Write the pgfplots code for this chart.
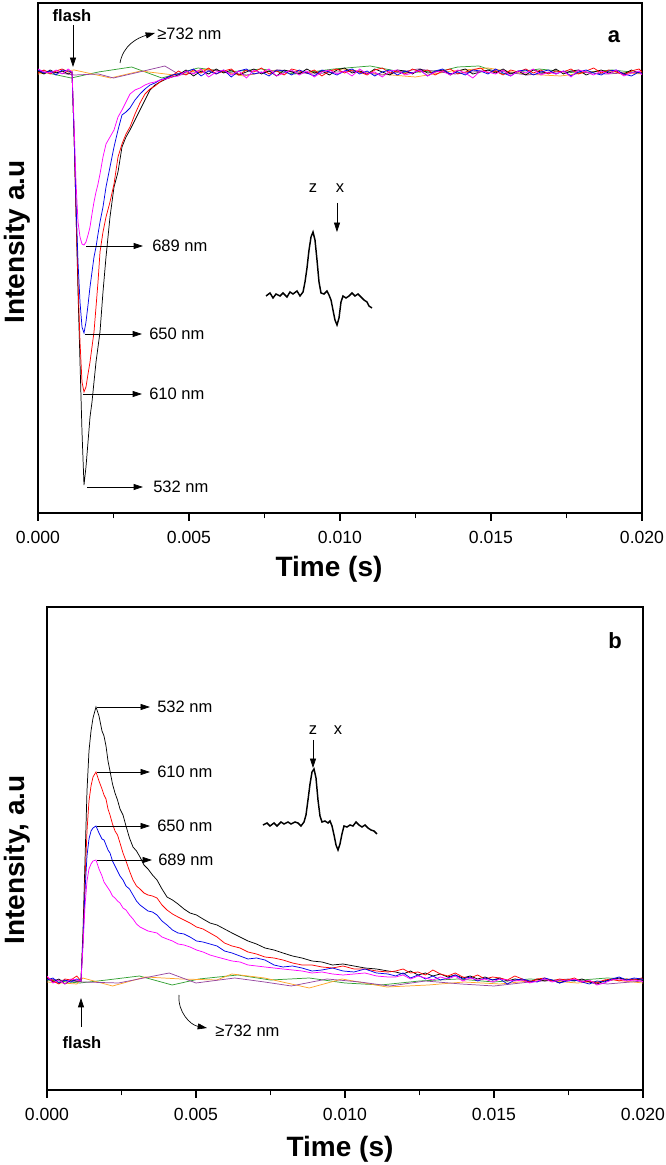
\documentclass[border=0pt]{standalone}
\usepackage{fontspec}
\setmainfont{Liberation Sans}
\usepackage{pgfplots}
\usepackage{pgfplotstable}
\pgfplotsset{compat=1.18}
\usetikzlibrary{arrows.meta}
\definecolor{cgreen}{RGB}{50,160,50}
\definecolor{corange}{RGB}{255,165,40}
\definecolor{cpurple}{RGB}{150,70,160}
\definecolor{cmag}{RGB}{255,0,255}
\definecolor{cblue}{RGB}{0,0,235}
\definecolor{cred}{RGB}{255,0,0}
\newcommand\tickfont{\fontsize{13.2}{15}\selectfont}
\newcommand\annfont{\fontsize{12.4}{14}\selectfont}
\newcommand\titlefont{\fontsize{21}{24}\selectfont\bfseries}

\pgfplotstableread{
t k r b m
0 0.01 -0.01 0.02 0.03
0.0002 -0.02 0.02 -0.01 0.00
0.0004 0.02 -0.02 0.01 -0.01
0.0006 -0.01 0.01 -0.03 0.02
0.0008 0.01 0.03 0.02 -0.02
0.0010 -0.02 0.00 0.01 0.03
0.001126 0.00 0.00 0.00 0.00
0.001192 -0.6 -0.6 -0.6 -0.5
0.001258 -1.4 -1.4 -1.3 -1.1
0.001325 -2.2 -2.1 -1.9 -1.5
0.001391 -2.9 -2.7 -2.3 -1.65
0.001457 -3.6 -3.1 -2.55 -1.72
0.001523 -4.13 -3.2 -2.61 -1.73
0.001589 -3.95 -3.15 -2.5 -1.70
0.001656 -3.7 -3.02 -2.33 -1.63
0.001722 -3.45 -2.9 -2.15 -1.55
0.001788 -3.3 -2.75 -2.0 -1.42
0.001854 -3.1 -2.6 -1.85 -1.30
0.001921 -2.9 -2.35 -1.75 -1.20
0.001987 -2.75 -2.1 -1.62 -1.12
0.002053 -2.6 -1.8 -1.5 -1.02
0.002152 -2.2 -1.6 -1.35 -0.85
0.002252 -1.85 -1.45 -1.15 -0.72
0.002384 -1.45 -1.3 -0.95 -0.65
0.002517 -1.15 -1.12 -0.75 -0.58
0.002649 -1.0 -0.85 -0.58 -0.45
0.002781 -0.75 -0.72 -0.43 -0.38
0.002914 -0.65 -0.62 -0.40 -0.30
0.003046 -0.58 -0.55 -0.36 -0.22
0.003212 -0.48 -0.42 -0.28 -0.18
0.003377 -0.38 -0.31 -0.22 -0.16
0.003543 -0.28 -0.22 -0.17 -0.13
0.003709 -0.18 -0.17 -0.13 -0.11
0.003874 -0.13 -0.14 -0.11 -0.10
0.004040 -0.10 -0.10 -0.08 -0.08
0.004238 -0.07 -0.06 -0.06 -0.07
0.004437 -0.05 -0.04 -0.03 -0.05
0.00465 -0.03 0.01 -0.02 -0.04
0.00490 0.02 -0.03 0.00 0.01
0.00515 -0.04 0.02 0.03 -0.02
0.00540 0.01 -0.01 -0.04 0.03
0.00565 -0.02 0.04 0.01 -0.05
0.00590 0.03 -0.02 -0.02 0.00
0.00615 -0.01 0.01 0.02 0.02
0.00640 0.02 0.03 -0.05 -0.03
0.00665 -0.03 -0.03 0.01 0.01
0.00690 0.00 0.02 0.03 -0.06
0.00715 0.03 0.00 -0.02 0.02
0.00740 -0.02 0.04 0.00 -0.01
0.00765 0.01 -0.02 -0.04 0.03
0.00790 -0.04 0.01 0.02 -0.04
0.00815 0.02 -0.03 0.01 -0.01
0.00840 0.00 0.03 -0.03 0.02
0.00865 -0.02 0.01 0.02 -0.03
0.00890 0.03 -0.01 -0.01 0.01
0.00915 -0.01 0.02 -0.04 -0.05
0.00940 0.01 -0.04 0.02 0.00
0.00965 -0.03 0.01 0.00 0.02
0.00990 0.02 0.03 -0.03 -0.02
0.01015 0.04 -0.01 0.01 0.01
0.01040 -0.01 0.02 0.03 -0.04
0.01065 0.01 0.00 -0.02 0.03
0.01090 -0.02 -0.03 0.01 -0.02
0.01115 0.03 0.02 -0.04 0.00
0.01140 0.00 0.04 0.00 -0.05
0.01165 -0.03 -0.01 0.02 0.01
0.01190 0.02 0.01 -0.03 0.02
0.01215 0.01 -0.02 0.01 -0.03
0.01240 -0.02 0.03 -0.01 -0.01
0.01265 0.03 0.00 0.02 0.02
0.01290 -0.01 0.02 -0.04 -0.04
0.01315 0.00 -0.03 0.01 0.00
0.01340 0.02 0.01 0.03 0.01
0.01365 -0.03 0.03 -0.02 -0.03
0.01390 0.01 -0.02 0.00 0.02
0.01415 0.03 0.00 -0.03 -0.01
0.01440 -0.02 0.02 0.02 -0.06
0.01465 0.00 0.04 0.01 0.01
0.01490 0.02 -0.01 -0.02 0.00
0.01515 -0.01 0.01 0.03 -0.02
0.01540 0.03 -0.03 -0.01 0.02
0.01565 -0.02 0.02 -0.04 -0.04
0.01590 0.01 0.00 0.01 0.01
0.01615 -0.03 0.03 0.02 -0.01
0.01640 0.02 -0.01 -0.03 0.03
0.01665 0.00 0.02 0.00 -0.03
0.01690 -0.01 -0.02 0.02 0.00
0.01715 0.03 0.01 -0.02 -0.02
0.01740 -0.02 0.00 0.01 0.01
0.01765 0.01 0.03 -0.04 -0.05
0.01790 0.02 -0.02 0.00 0.02
0.01815 -0.03 0.01 0.02 0.00
0.01840 0.00 0.04 -0.01 -0.03
0.01865 0.02 -0.01 -0.03 0.01
0.01890 -0.01 0.02 0.01 -0.02
0.01915 0.01 0.00 0.02 0.02
0.01940 -0.02 -0.03 -0.02 -0.04
0.01965 0.02 0.01 -0.04 -0.01
0.01990 -0.01 0.03 0.00 0.01
0.02000 0.00 0.00 -0.02 -0.03
}\tabA

\pgfplotstableread{
t k r b m
0 0.03 0.04 0.01 0.05
0.0002 -0.01 0.00 0.03 -0.02
0.0004 0.02 -0.03 -0.02 0.01
0.0006 -0.03 0.02 0.01 -0.03
0.0008 0.01 0.01 -0.01 0.02
0.0010 0.00 0.05 0.02 0.01
0.00114 0.00 0.00 0.00 0.00
0.001208 0.5 0.4 0.4 0.35
0.001275 1.2 1.0 0.9 0.75
0.001342 1.9 1.5 1.25 1.0
0.001409 2.3 1.8 1.42 1.12
0.001477 2.5 1.95 1.5 1.17
0.001544 2.63 2.04 1.53 1.2
0.001644 2.74 2.09 1.55 1.21
0.001745 2.65 2.00 1.48 1.12
0.001846 2.50 1.92 1.42 1.05
0.001913 2.45 1.86 1.41 0.99
0.001980 2.35 1.82 1.36 0.96
0.002047 2.20 1.72 1.31 0.93
0.002114 2.10 1.66 1.28 0.90
0.002198 1.97 1.57 1.20 0.85
0.002282 1.88 1.50 1.15 0.83
0.002366 1.81 1.46 1.10 0.80
0.002450 1.72 1.38 1.05 0.78
0.002550 1.66 1.28 1.01 0.73
0.002651 1.55 1.20 0.95 0.71
0.002768 1.43 1.10 0.92 0.66
0.002886 1.34 1.01 0.86 0.62
0.003003 1.30 0.95 0.80 0.57
0.003121 1.24 0.92 0.76 0.54
0.003255 1.16 0.88 0.73 0.52
0.003389 1.12 0.86 0.70 0.50
0.003540 1.06 0.85 0.69 0.49
0.003691 1.01 0.83 0.66 0.48
0.003859 0.92 0.76 0.60 0.44
0.004027 0.84 0.71 0.56 0.42
0.004211 0.81 0.67 0.51 0.40
0.004396 0.77 0.64 0.48 0.37
0.004597 0.72 0.61 0.47 0.36
0.004799 0.68 0.58 0.44 0.34
0.005017 0.66 0.54 0.40 0.31
0.005235 0.62 0.52 0.39 0.29
0.005470 0.58 0.48 0.37 0.26
0.005705 0.56 0.44 0.35 0.24
0.005956 0.52 0.38 0.30 0.22
0.006208 0.48 0.35 0.28 0.20
0.006476 0.44 0.33 0.25 0.19
0.006745 0.40 0.29 0.22 0.16
0.007030 0.37 0.27 0.23 0.15
0.007315 0.33 0.24 0.21 0.14
0.007617 0.31 0.23 0.16 0.13
0.007919 0.28 0.21 0.14 0.12
0.008238 0.25 0.18 0.15 0.11
0.008557 0.23 0.16 0.13 0.10
0.008892 0.20 0.16 0.10 0.08
0.009228 0.19 0.14 0.11 0.09
0.009580 0.16 0.13 0.13 0.07
0.009933 0.17 0.15 0.10 0.06
0.010302 0.15 0.12 0.09 0.07
0.010671 0.13 0.12 0.12 0.08
0.011057 0.12 0.10 0.08 0.05
0.011443 0.10 0.09 0.07 0.04
0.01170 0.09 0.10 0.05 0.04
0.01195 0.07 0.12 0.08 0.06
0.01220 0.10 0.08 0.03 0.02
0.01245 0.06 0.09 0.06 0.05
0.01270 0.08 0.06 0.02 0.03
0.01295 0.05 0.11 0.05 0.01
0.01320 0.07 0.07 0.01 0.04
0.01345 0.04 0.05 0.03 0.02
0.01370 0.06 0.08 0.06 0.05
0.01395 0.03 0.04 0.02 0.00
0.01420 0.05 0.03 0.04 0.03
0.01445 0.02 0.06 0.00 0.01
0.01470 0.04 0.02 0.03 0.02
0.01495 0.01 0.04 0.01 -0.01
0.01520 0.03 0.03 0.02 0.02
0.01545 0.00 0.01 -0.03 0.01
0.01570 0.02 0.05 0.01 0.00
0.01595 0.01 0.02 0.02 0.01
0.01620 -0.01 -0.01 0.00 -0.02
0.01645 0.02 0.02 -0.01 0.00
0.01670 0.00 0.03 0.03 0.02
0.01695 0.01 0.00 0.01 -0.01
0.01720 -0.02 0.02 -0.02 0.01
0.01745 0.01 0.01 0.00 0.00
0.01770 0.00 0.03 0.01 0.02
0.01795 0.02 -0.01 -0.01 -0.01
0.01820 -0.01 0.00 -0.03 0.01
0.01845 -0.03 -0.02 0.00 -0.04
0.01870 0.00 0.01 -0.01 -0.02
0.01895 0.01 0.02 0.02 0.01
0.01920 0.03 0.00 0.04 0.02
0.01945 0.01 0.02 0.01 0.00
0.01970 0.02 0.01 0.03 0.01
0.01995 0.01 0.03 0.02 0.00
0.02000 0.00 0.01 0.01 -0.01
}\tabB

\tikzset{arr/.style={-{Triangle[length=7pt,width=4.5pt]}, line width=0.5pt}}
\pgfplotsset{
  panel/.style={
    scale only axis,
    xmin=0, xmax=0.02,
    xtick={0,0.005,0.01,0.015,0.02},
    minor x tick num=1,
    xtick pos=bottom,
    ytick=\empty,
    tick align=outside,
    major tick length=6pt,
    minor tick length=4pt,
    every tick/.style={black, line width=0.8pt},
    axis line style={line width=0.9pt},
    scaled x ticks=false,
    xticklabel style={font=\tickfont, yshift=-4.5pt,
      /pgf/number format/fixed,
      /pgf/number format/fixed zerofill,
      /pgf/number format/precision=3,
      /pgf/number format/assume math mode=true},
    every axis plot/.append style={line width=0.55pt},
  },
}

\begin{document}
\begin{tikzpicture}
\useasboundingbox (0,0) rectangle (499.5pt,873.75pt);

% ---------------- panel a ----------------
\begin{axis}[panel,
  at={(28.5pt,489pt)}, anchor=south west,
  width=453pt, height=382.5pt,
  ymin=-4.41, ymax=0.69]
\addplot[cgreen] coordinates {(0,0.01) (0.0011,-0.06) (0.0020,0.0) (0.0031,0.05) (0.0041,-0.06) (0.0053,0.04) (0.0063,0.00) (0.0074,0.03) (0.0085,-0.02) (0.0098,0.03) (0.0110,0.06) (0.0122,-0.01) (0.0135,0.02) (0.0139,0.05) (0.0146,0.06) (0.0154,-0.02) (0.0166,0.03) (0.0178,-0.01) (0.0190,0.02) (0.0200,-0.01)};
\addplot[corange] coordinates {(0,-0.02) (0.0012,0.02) (0.0024,-0.06) (0.0034,0.01) (0.0045,-0.03) (0.0056,0.03) (0.0068,-0.04) (0.0079,0.02) (0.0090,-0.01) (0.0101,0.03) (0.0113,-0.02) (0.0125,-0.05) (0.0137,0.01) (0.0149,0.04) (0.0161,-0.02) (0.0173,-0.04) (0.0186,0.01) (0.0200,-0.02)};
\addplot[cpurple] coordinates {(0,0.02) (0.0012,-0.03) (0.0020,-0.02) (0.0025,-0.06) (0.0035,0.01) (0.0042,0.06) (0.0047,-0.03) (0.0058,0.02) (0.0069,-0.03) (0.0080,0.02) (0.0091,-0.02) (0.0103,0.01) (0.0114,-0.03) (0.0126,0.03) (0.0138,-0.02) (0.0150,0.02) (0.0162,-0.03) (0.0175,0.01) (0.0188,-0.02) (0.0200,0.00)};
\addplot[black] table[x=t,y=k] {\tabA};
\addplot[cred] table[x=t,y=r] {\tabA};
\addplot[cblue] table[x=t,y=b] {\tabA};
\addplot[cmag] table[x=t,y=m] {\tabA};
% inset trace
\addplot[black, line width=1.1pt] coordinates {
(0.007550,-2.24) (0.007682,-2.21) (0.007782,-2.26) (0.007881,-2.22) (0.008013,-2.24)
(0.008113,-2.21) (0.008245,-2.25) (0.008344,-2.20) (0.008444,-2.22) (0.008576,-2.19)
(0.008676,-2.24) (0.008775,-2.20) (0.008841,-2.10) (0.008907,-1.96) (0.008974,-1.78)
(0.009040,-1.65) (0.009106,-1.60) (0.009172,-1.68) (0.009238,-1.88) (0.009305,-2.10)
(0.009371,-2.21) (0.009470,-2.22) (0.009570,-2.19) (0.009636,-2.23) (0.009702,-2.28)
(0.009768,-2.38) (0.009834,-2.48) (0.009901,-2.53) (0.009967,-2.46) (0.010033,-2.30)
(0.010099,-2.24) (0.010199,-2.26) (0.010298,-2.24) (0.010397,-2.21) (0.010497,-2.24)
(0.010596,-2.22) (0.010695,-2.25) (0.010795,-2.28) (0.010894,-2.30) (0.010960,-2.34)
(0.011060,-2.36)};
% annotations
\node[font=\annfont\bfseries] at (axis cs:0.001126,0.56) {flash};
\draw[arr] (axis cs:0.001159,0.47) -- (axis cs:0.001159,0.05);
\draw[arr] (axis cs:0.002715,0.09) to[out=80,in=195] (axis cs:0.003874,0.39);
\node[font=\annfont, anchor=west, inner sep=0pt] at (axis cs:0.00394,0.38) {≥732 nm};
\draw[arr] (axis cs:0.00159,-1.74) -- (axis cs:0.003477,-1.74);
\node[font=\annfont, anchor=west, inner sep=0pt] at (axis cs:0.003775,-1.74) {689 nm};
\draw[arr] (axis cs:0.001556,-2.62) -- (axis cs:0.003444,-2.62);
\node[font=\annfont, anchor=west, inner sep=0pt] at (axis cs:0.003675,-2.62) {650 nm};
\draw[arr] (axis cs:0.00149,-3.22) -- (axis cs:0.003444,-3.22);
\node[font=\annfont, anchor=west, inner sep=0pt] at (axis cs:0.003675,-3.22) {610 nm};
\draw[arr] (axis cs:0.001623,-4.15) -- (axis cs:0.003477,-4.15);
\node[font=\annfont, anchor=west, inner sep=0pt] at (axis cs:0.003808,-4.15) {532 nm};
\node[font=\annfont] at (axis cs:0.009106,-1.16) {z};
\node[font=\annfont] at (axis cs:0.0100,-1.16) {x};
\draw[arr] (axis cs:0.0099,-1.31) -- (axis cs:0.0099,-1.60);
\end{axis}

% ---------------- panel b ----------------
\begin{axis}[panel,
  at={(35.25pt,56.25pt)}, anchor=south west,
  width=447pt, height=362.25pt,
  ymin=-1.09, ymax=3.74]
\addplot[cgreen] coordinates {(0,0.01) (0.0011,-0.02) (0.0020,0.01) (0.0031,0.05) (0.0042,-0.04) (0.0051,0.02) (0.0064,0.06) (0.0075,0.01) (0.0088,0.03) (0.0100,-0.02) (0.0112,-0.04) (0.0125,0.00) (0.0138,0.02) (0.0150,-0.01) (0.0162,0.02) (0.0175,0.00) (0.0188,0.03) (0.0200,0.01)};
\addplot[corange] coordinates {(0,-0.01) (0.0010,-0.03) (0.0012,0.03) (0.0022,-0.05) (0.0033,0.04) (0.0045,0.02) (0.0057,0.01) (0.0062,0.07) (0.0073,0.03) (0.0088,-0.07) (0.0099,0.02) (0.0114,-0.06) (0.0128,-0.04) (0.0140,-0.01) (0.0152,-0.03) (0.0165,0.01) (0.0178,-0.02) (0.0190,0.01) (0.0200,-0.02)};
\addplot[cpurple] coordinates {(0,0.02) (0.0012,-0.01) (0.0024,-0.02) (0.0041,0.08) (0.0050,-0.02) (0.0063,0.03) (0.0073,-0.01) (0.0082,-0.05) (0.0094,0.02) (0.0105,-0.01) (0.0115,-0.05) (0.0127,0.00) (0.0139,-0.03) (0.0150,-0.05) (0.0162,-0.01) (0.0175,0.02) (0.0188,-0.03) (0.0200,0.00)};
\addplot[black] table[x=t,y=k] {\tabB};
\addplot[cred] table[x=t,y=r] {\tabB};
\addplot[cblue] table[x=t,y=b] {\tabB};
\addplot[cmag] table[x=t,y=m] {\tabB};
% inset trace
\addplot[black, line width=1.1pt] coordinates {
(0.007248,1.56) (0.007383,1.58) (0.007483,1.55) (0.007617,1.58) (0.007718,1.55)
(0.007852,1.59) (0.007953,1.57) (0.008087,1.59) (0.008188,1.57) (0.008322,1.59)
(0.008423,1.58) (0.008523,1.55) (0.008624,1.59) (0.008691,1.66) (0.008758,1.81)
(0.008826,1.97) (0.008893,2.09) (0.008960,2.12) (0.009027,2.03) (0.009094,1.81)
(0.009161,1.65) (0.009228,1.59) (0.009329,1.60) (0.009430,1.58) (0.009497,1.60)
(0.009564,1.55) (0.009631,1.46) (0.009698,1.36) (0.009765,1.31) (0.009832,1.37)
(0.009899,1.47) (0.009966,1.55) (0.010067,1.54) (0.010168,1.56) (0.010268,1.55)
(0.010369,1.59) (0.010470,1.56) (0.010570,1.54) (0.010671,1.56) (0.010772,1.53)
(0.010872,1.51) (0.010973,1.50) (0.011074,1.47)};
% annotations
\draw[arr] (axis cs:0.001678,2.74) -- (axis cs:0.003456,2.74);
\node[font=\annfont, anchor=west, inner sep=0pt] at (axis cs:0.003691,2.74) {532 nm};
\draw[arr] (axis cs:0.001678,2.09) -- (axis cs:0.003456,2.09);
\node[font=\annfont, anchor=west, inner sep=0pt] at (axis cs:0.003691,2.09) {610 nm};
\draw[arr] (axis cs:0.001678,1.55) -- (axis cs:0.003456,1.55);
\node[font=\annfont, anchor=west, inner sep=0pt] at (axis cs:0.003691,1.55) {650 nm};
\draw[arr] (axis cs:0.001678,1.21) -- (axis cs:0.003523,1.21);
\node[font=\annfont, anchor=west, inner sep=0pt] at (axis cs:0.003725,1.21) {689 nm};
\draw[arr] (axis cs:0.001141,-0.46) -- (axis cs:0.001141,-0.17);
\node[font=\annfont\bfseries] at (axis cs:0.001175,-0.62) {flash};
\draw[arr] (axis cs:0.00443,-0.14) to[out=-95,in=170] (axis cs:0.00537,-0.47);
\node[font=\annfont, anchor=west, inner sep=0pt] at (axis cs:0.005638,-0.50) {≥732 nm};
\node[font=\annfont] at (axis cs:0.008926,2.51) {z};
\node[font=\annfont] at (axis cs:0.009765,2.51) {x};
\draw[arr] (axis cs:0.008926,2.41) -- (axis cs:0.008926,2.13);
\end{axis}

% ---------------- outer labels ----------------
\node[font=\titlefont, rotate=90] at (12.75pt,692.25pt) {Intensity a.u};
\node[font=\titlefont, rotate=90] at (12.75pt,228.75pt) {Intensity, a.u};
\node[font=\titlefont] at (246.75pt,447pt) {Time (s)};
\node[font=\titlefont] at (255pt,12pt) {Time (s)};
\node[font=\fontsize{16.5}{18}\selectfont\bfseries] at (460.5pt,846pt) {a};
\node[font=\fontsize{16.5}{18}\selectfont\bfseries] at (461.25pt,393pt) {b};
\end{tikzpicture}
\end{document}
